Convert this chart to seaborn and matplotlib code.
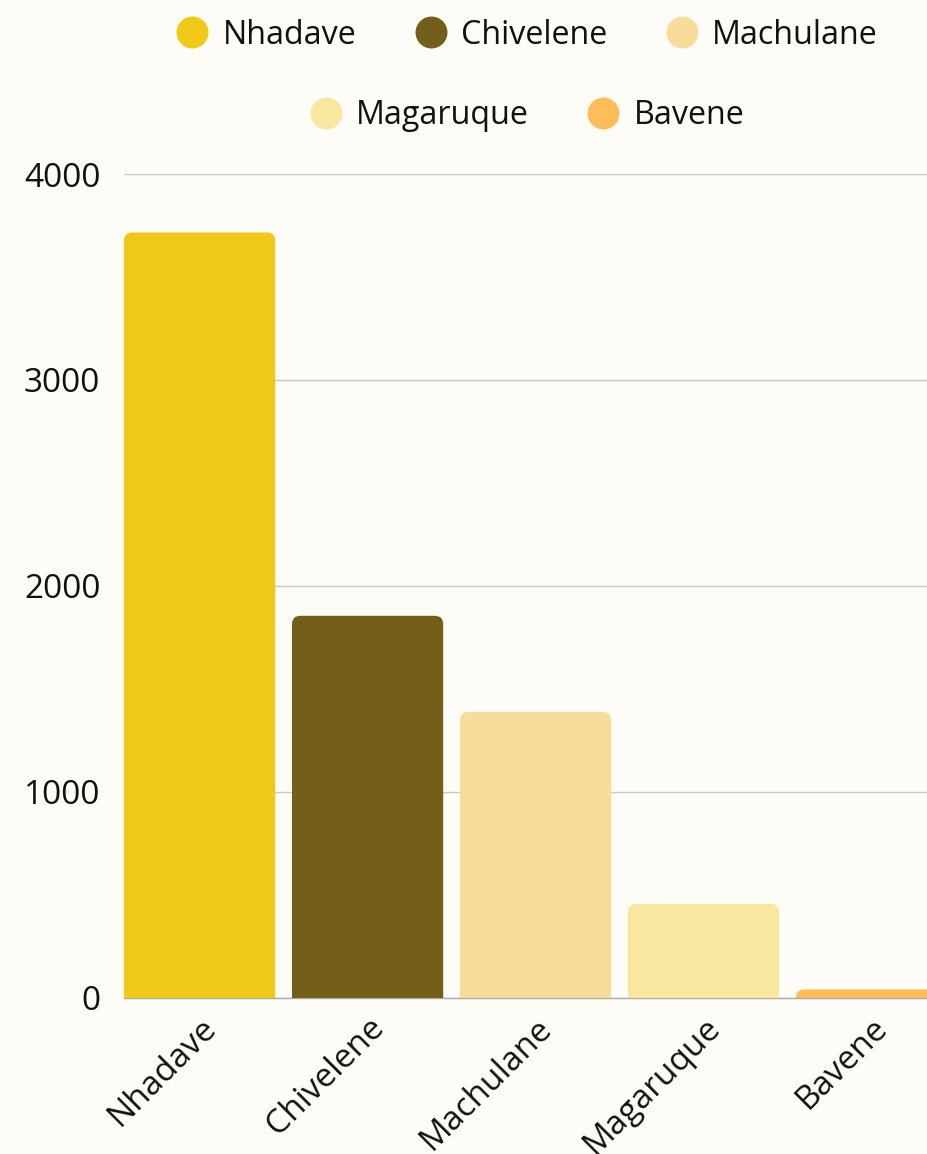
import matplotlib
matplotlib.use("Agg")
import matplotlib.pyplot as plt
import seaborn as sns
import pandas as pd
from matplotlib.patches import FancyBboxPatch
from matplotlib.lines import Line2D

# data
places = ['Nhadave', 'Chivelene', 'Machulane', 'Magaruque', 'Bavene']
values = [3716, 1854, 1387, 454, 39]
colors = ['#F0C918', '#735F1A', '#F8DC9C', '#F9E79F', '#FFBC58']
y_ticks = [0, 1000, 2000, 3000, 4000]

BG = '#FEFCF6'

sns.set_theme(style='white')
plt.rcParams['font.family'] = ['Open Sans', 'DejaVu Sans']

df = pd.DataFrame({'place': places, 'value': values})

fig = plt.figure(figsize=(9.27, 11.54), dpi=100, facecolor=BG)
ax = fig.add_axes([124 / 927, (1154 - 997.5) / 1154, 1 - 124 / 927, (997.5 - 174) / 1154])
ax.set_facecolor(BG)

sns.barplot(data=df, x='place', y='value', hue='place', palette=colors,
            width=0.9, legend=False, ax=ax, saturation=1)

ax.set_xlim(-0.45, 4.33)
ax.set_ylim(0, 4000)

# swap plain bars for ones with rounded tops
px_per_x = 168.0
px_per_y = (997.5 - 174) / 4000
aspect = px_per_x / px_per_y
for p in list(ax.patches):
    x0, w, h = p.get_x(), p.get_width(), p.get_height()
    fc = p.get_facecolor()
    p.set_visible(False)
    rb = FancyBboxPatch((x0, -200), w, h + 200,
                        boxstyle='round,pad=0,rounding_size=0.05',
                        mutation_aspect=aspect, facecolor=fc,
                        edgecolor='none', zorder=3)
    ax.add_patch(rb)

ax.set_yticks(y_ticks)
ax.set_yticklabels([str(t) for t in y_ticks])
ax.yaxis.grid(True, color='#C8C8C8', linewidth=1)
ax.set_axisbelow(True)
for s in ['top', 'right', 'left']:
    ax.spines[s].set_visible(False)
ax.spines['bottom'].set_color('#AAAAAA')
ax.spines['bottom'].set_linewidth(1)
ax.tick_params(axis='y', length=0, pad=17, labelsize=24, labelcolor='#111111')
ax.tick_params(axis='x', length=0, pad=10, labelsize=24, labelcolor='#111111')
plt.setp(ax.get_xticklabels(), rotation=45, ha='right', rotation_mode='anchor')
ax.set_xlabel('')
ax.set_ylabel('')

# legend in two centred rows
def handles(idx):
    return [Line2D([], [], marker='o', linestyle='', markersize=23,
                   markerfacecolor=colors[i], markeredgecolor='none')
            for i in idx]

kw = dict(frameon=False, fontsize=23.2, handlelength=1.0, handletextpad=0.45,
          columnspacing=1.8, borderaxespad=0, borderpad=0)
leg1 = fig.legend(handles([0, 1, 2]), places[:3], ncol=3, loc='center',
                  bbox_to_anchor=(527 / 927, 1 - 35 / 1154), **kw)
leg2 = fig.legend(handles([3, 4]), places[3:], ncol=2, loc='center',
                  bbox_to_anchor=(527 / 927, 1 - 116 / 1154), **kw)
for lg in (leg1, leg2):
    for t in lg.get_texts():
        t.set_color('#111111')

fig.savefig('out.png', dpi=100, facecolor=BG)
